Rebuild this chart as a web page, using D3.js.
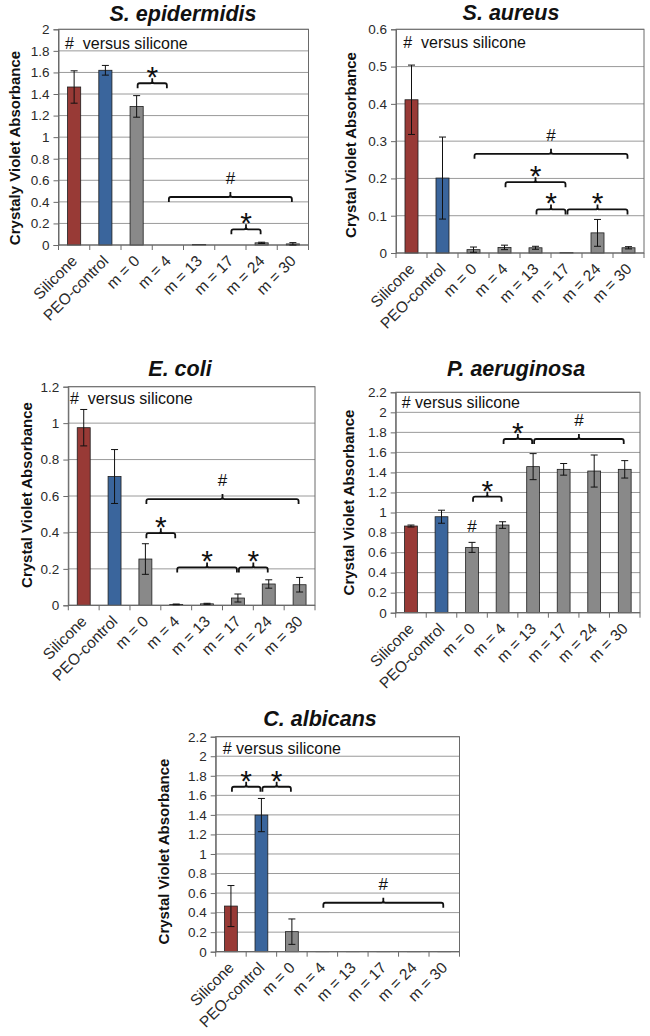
<!DOCTYPE html>
<html><head><meta charset="utf-8">
<script src="https://cdn.jsdelivr.net/npm/d3@7"></script>
<style>
body{margin:0;background:#fff}
text{font-family:"Liberation Sans",Arial,sans-serif}
</style>
</head><body>
<svg id="c" width="650" height="1036"></svg>
<script>
// ---------- data ----------
const categories = ["Silicone","PEO-control","m = 0","m = 4","m = 13","m = 17","m = 24","m = 30"];
const titles = ["S. epidermidis","S. aureus","E. coli","P. aeruginosa","C. albicans"];
const yLabels = ["Crystaly Violet Absorbance","Crystal Violet Absorbance","Crystal Violet Absorbance","Crystal Violet Absorbance","Crystal Violet Absorbance"];
const notes = ["#  versus silicone","#  versus silicone","#  versus silicone","# versus silicone","# versus silicone"];
const yMax = [2, 0.6, 1.2, 2.2, 2.2];
const yStep = [0.2, 0.1, 0.2, 0.2, 0.2];

const sEpiMeans = [1.465, 1.62, 1.285, 0, 0.004, 0, 0.02, 0.01];
const sEpiErr   = [0.15, 0.045, 0.1, 0, 0, 0, 0.006, 0.012];
const sAurMeans = [0.411, 0.201, 0.009, 0.015, 0.014, 0.001, 0.054, 0.014];
const sAurErr   = [0.093, 0.11, 0.007, 0.006, 0.004, 0, 0.036, 0.003];
const eColMeans = [0.975, 0.707, 0.254, 0.005, 0.008, 0.04, 0.117, 0.113];
const eColErr   = [0.1, 0.148, 0.084, 0.002, 0.003, 0.022, 0.023, 0.04];
const pAerMeans = [0.865, 0.958, 0.652, 0.875, 1.458, 1.431, 1.414, 1.431];
const pAerErr   = [0.01, 0.065, 0.05, 0.033, 0.13, 0.058, 0.16, 0.087];
const cAlbMeans = [0.467, 1.398, 0.205, 0.003, 0.003, 0.003, 0.003, 0.003];
const cAlbErr   = [0.21, 0.17, 0.13, 0, 0, 0, 0, 0];

// brackets: [fromIndex, toIndex, yValue, label]
const sEpiBrackets = [[2,3,1.5,"*"],[3,7,0.445,"#"],[5,6,0.145,"*"]];
const sAurBrackets = [[2,7,0.266,"#"],[3,5,0.19,"*"],[4,5,0.117,"*"],[5,7,0.117,"*"]];
const eColBrackets = [[2,7,0.583,"#"],[2,3,0.396,"*"],[3,5,0.208,"*"],[5,6,0.208,"*"]];
const pAerBrackets = [[2,3,1.158,"*"],[3,4,1.734,"*"],[4,7,1.734,"#"]];
const cAlbBrackets = [[0,1,1.688,"*"],[1,2,1.688,"*"],[3,7,0.501,"#"]];
// free marks: [index, yValue, label]
const pAerMarks = [[2,0.81,"#"]];

const meansList = [sEpiMeans, sAurMeans, eColMeans, pAerMeans, cAlbMeans];
const errList = [sEpiErr, sAurErr, eColErr, pAerErr, cAlbErr];
const bracketList = [sEpiBrackets, sAurBrackets, eColBrackets, pAerBrackets, cAlbBrackets];
const markList = [[], [], [], pAerMarks, []];

// ---------- layout ----------
const layout = [
  {l:58.5, r:308.5, t:29.3, b:245,   tx:183, ty:20.5,  lx:15,    ly:148,   nx:65,    ny:49.3},
  {l:396,  r:644,   t:29.3, b:253,   tx:511, ty:20,    lx:351,   ly:145,   nx:403.3, ny:48.3},
  {l:68.3, r:315,   t:386.7,b:605.3, tx:180, ty:375.5, lx:26.7,  ly:495,   nx:70,    ny:404},
  {l:395.7,r:640,   t:392.3,b:612.7, tx:516, ty:376,   lx:348.3, ly:502.5, nx:401.7, ny:407.7},
  {l:215.7,r:459.5, t:736.7,b:951.7, tx:320, ty:725.5, lx:163.3, ly:851.5, nx:222.7, ny:754}
];
const barColors = ["#983a36","#3a659c","#898989","#898989","#898989","#898989","#898989","#898989"];

const svg = d3.select("#c");
svg.append("rect").attr("width",650).attr("height",1036).attr("fill","#fff");

layout.forEach((L, p) => {
  const g = svg.append("g");
  const x = d3.scaleBand().domain(categories).range([L.l, L.r]).paddingInner(0.58).paddingOuter(0.29);
  const y = d3.scaleLinear().domain([0, yMax[p]]).range([L.b, L.t]);
  const step = x.step();
  const ticks = d3.range(0, Math.round(yMax[p]/yStep[p]) + 1).map(i => +(i*yStep[p]).toFixed(2));

  // gridlines
  g.selectAll(".grid").data(ticks.filter(t => t > 0)).join("line")
    .attr("x1", L.l).attr("x2", L.r).attr("y1", d => y(d)).attr("y2", d => y(d))
    .attr("stroke", "#9a9a9a").attr("stroke-width", 1);
  // border
  g.append("rect").attr("x", L.l).attr("y", L.t).attr("width", L.r - L.l).attr("height", L.b - L.t)
    .attr("fill", "none").attr("stroke", "#6a6a6a").attr("stroke-width", 1);

  // y axis
  const ya = g.append("g").attr("transform", `translate(${L.l},0)`)
    .call(d3.axisLeft(y).tickValues(ticks).tickSize(5).tickPadding(4).tickFormat(d => String(d)));
  ya.select(".domain").attr("stroke", "#6a6a6a");
  ya.selectAll(".tick line").attr("stroke", "#6a6a6a");
  ya.selectAll("text").attr("font-size", 13.5).attr("fill", "#2a2a2a")
    .attr("font-family", "'Liberation Sans',Arial,sans-serif");

  // bars
  const means = meansList[p], errs = errList[p];
  g.selectAll(".bar").data(categories.map((c, i) => ({c, v: means[i], e: errs[i], i}))).join("rect")
    .filter(d => d.v > 0)
    .attr("x", d => x(d.c)).attr("width", x.bandwidth())
    .attr("y", d => y(d.v)).attr("height", d => y(0) - y(d.v))
    .attr("fill", d => barColors[d.i]).attr("stroke", "#1e1e1e").attr("stroke-width", 0.8);

  // x axis line & ticks at band boundaries
  g.append("line").attr("x1", L.l).attr("x2", L.r).attr("y1", L.b).attr("y2", L.b)
    .attr("stroke", "#6a6a6a").attr("stroke-width", 1.2);
  g.selectAll(".xt").data(d3.range(categories.length + 1)).join("line")
    .attr("x1", i => L.l + i*step).attr("x2", i => L.l + i*step)
    .attr("y1", L.b).attr("y2", L.b + 5).attr("stroke", "#6a6a6a");

  // error bars
  const eb = categories.map((c, i) => ({c, v: means[i], e: errs[i]})).filter(d => d.e > 0);
  eb.forEach(d => {
    const cx = x(d.c) + x.bandwidth()/2;
    const y1 = y(d.v + d.e), y2 = y(Math.max(0, d.v - d.e));
    g.append("line").attr("x1", cx).attr("x2", cx).attr("y1", y1).attr("y2", y2).attr("stroke", "#111").attr("stroke-width", 1);
    [y1, y2].forEach(yy => g.append("line").attr("x1", cx - 3.5).attr("x2", cx + 3.5).attr("y1", yy).attr("y2", yy)
      .attr("stroke", "#111").attr("stroke-width", 1));
  });

  // x labels
  g.selectAll(".xl").data(categories).join("text")
    .attr("transform", c => `translate(${x(c) + x.bandwidth()/2 + 4},${L.b + 17}) rotate(-45)`)
    .attr("text-anchor", "end").attr("font-size", 15.5).attr("fill", "#2a2a2a").text(c => c);

  // y label
  g.append("text").attr("transform", `translate(${L.lx},${L.ly}) rotate(-90)`)
    .attr("text-anchor", "middle").attr("dy", "0.35em").attr("font-size", 15).attr("font-weight", "bold")
    .attr("fill", "#111").text(yLabels[p]);

  // title
  g.append("text").attr("x", L.tx).attr("y", L.ty).attr("text-anchor", "middle")
    .attr("font-size", 21.5).attr("font-weight", "bold").attr("font-style", "italic").attr("fill", "#111")
    .text(titles[p]);

  // note
  g.append("text").attr("x", L.nx).attr("y", L.ny).attr("font-size", 16).attr("fill", "#111")
    .style("white-space", "pre").text(notes[p]);

  // brackets
  bracketList[p].forEach(([a, b, v, lab]) => {
    const x1 = x(categories[a]) + x.bandwidth()/2 + 1;
    const x2 = x(categories[b]) + x.bandwidth()/2 - 1;
    const yy = y(v), xm = (x1 + x2)/2, r = 2;
    const path = `M${x1},${yy+5} L${x1},${yy+r} Q${x1},${yy} ${x1+r},${yy} L${xm-r},${yy} Q${xm},${yy} ${xm},${yy-r} L${xm},${yy-5}` +
                 ` M${xm},${yy-r} Q${xm},${yy} ${xm+r},${yy} L${x2-r},${yy} Q${x2},${yy} ${x2},${yy+r} L${x2},${yy+5}`;
    g.append("path").attr("d", path).attr("fill", "none").attr("stroke", "#111").attr("stroke-width", 1.8);
    if (lab === "*") {
      g.append("text").attr("x", xm).attr("y", yy + 4).attr("text-anchor", "middle")
        .attr("font-size", 30).attr("fill", "#111").text("*");
    } else {
      g.append("text").attr("x", xm).attr("y", yy - 13).attr("text-anchor", "middle")
        .attr("font-size", 17).attr("fill", "#111").text(lab);
    }
  });
  markList[p].forEach(([i, v, lab]) => {
    g.append("text").attr("x", x(categories[i]) + x.bandwidth()/2).attr("y", y(v)).attr("text-anchor", "middle")
      .attr("font-size", 17).attr("fill", "#111").text(lab);
  });
});
</script>
</body></html>
